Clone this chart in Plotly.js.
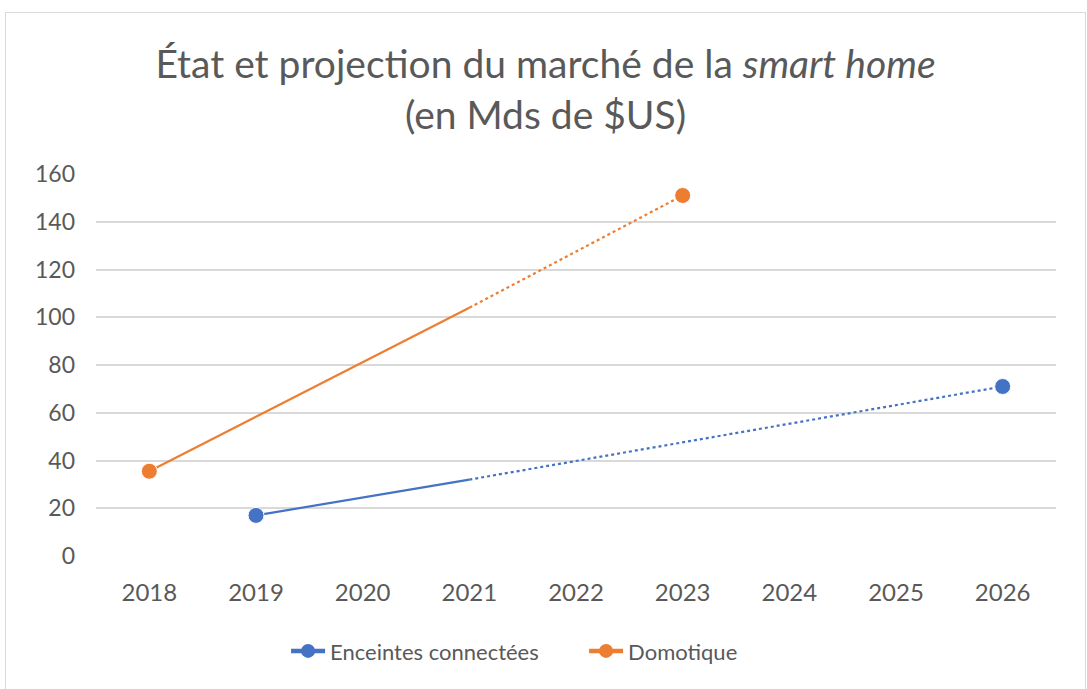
<!DOCTYPE html>
<html>
<head>
<meta charset="utf-8">
<script src="https://cdn.plot.ly/plotly-3.0.1.min.js"></script>
<style>
  html, body { margin: 0; padding: 0; background: #ffffff; overflow: hidden; }
  #frame { position: absolute; left: 5px; top: 12px; width: 1079px; height: 690px; border: 1px solid #d9d9d9; background: #fff; }
  #chart { width: 1079px; height: 677px; }
</style>
</head>
<body>
<div id="frame"><div id="chart"></div></div>
<script>
// Data
const years = ["2018", "2019", "2020", "2021", "2022", "2023", "2024", "2025", "2026"];
const enceintes = [null, 17, null, 32, null, null, null, null, 71];
const domotique = [35.5, null, null, 104, null, 151, null, null, null];
const projectionStart = "2021";
const seriesNames = ["Enceintes connectées", "Domotique"];
const seriesColors = ["#4472C4", "#ED7D31"];
const yTicks = [0, 20, 40, 60, 80, 100, 120, 140, 160];

const splitIdx = years.indexOf(projectionStart);
const font = "Lato, 'Open Sans', sans-serif";
const textColor = "#595959";

function segments(vals, name, color) {
  const solid = vals.map((v, i) => (i <= splitIdx ? v : null));
  const dotted = vals.map((v, i) => (i >= splitIdx ? v : null));
  const sizes = years.map((y, i) => (i === splitIdx ? 0 : 16));
  return [
    { x: years, y: solid, type: "scatter", mode: "lines+markers", connectgaps: true,
      line: { color: color, width: 2.2 }, marker: { color: color, size: sizes, opacity: 1 },
      showlegend: false, hoverinfo: "x+y", name: name },
    { x: years, y: dotted, type: "scatter", mode: "lines+markers", connectgaps: true,
      line: { color: color, width: 2.2, dash: "dot" }, marker: { color: color, size: sizes, opacity: 1 },
      showlegend: false, hoverinfo: "x+y", name: name },
    { x: [years[0]], y: [null], type: "scatter", mode: "lines+markers",
      line: { color: color, width: 4.5 }, marker: { color: color, size: 14, opacity: 1 },
      showlegend: true, name: name }
  ];
}

const data = [
  ...segments(enceintes, seriesNames[0], seriesColors[0]),
  ...segments(domotique, seriesNames[1], seriesColors[1])
];

const layout = {
  width: 1079, height: 677,
  margin: { l: 90, r: 29, t: 161, b: 134 },
  paper_bgcolor: "#ffffff", plot_bgcolor: "#ffffff",
  font: { family: font, color: textColor, size: 22 },
  title: {
    text: "État et projection du marché de la <i>smart home</i><br>(en Mds de $US)",
    font: { family: font, size: 39, color: textColor },
    x: 0.5, xanchor: "center", y: 0.904, yanchor: "middle"
  },
  xaxis: {
    type: "category", categoryorder: "array", categoryarray: years,
    range: [-0.5, years.length - 0.5],
    showgrid: false, zeroline: false, showline: false, ticks: "",
    tickfont: { family: font, size: 24, color: textColor },
    ticklabelstandoff: 20, fixedrange: true
  },
  yaxis: {
    range: [0, 160], tickmode: "array", tickvals: yTicks,
    showgrid: true, gridcolor: "#d9d9d9", gridwidth: 2,
    zeroline: false, showline: false, ticks: "",
    tickfont: { family: font, size: 23, color: textColor },
    ticklabelstandoff: 20, fixedrange: true
  },
  legend: {
    orientation: "h", x: 0.198, xanchor: "left", y: -0.249, yanchor: "middle",
    font: { family: font, size: 22, color: textColor }, itemwidth: 34,
    entrywidth: 249, entrywidthmode: "pixels",
    traceorder: "normal"
  },
  showlegend: true
};

Plotly.newPlot("chart", data, layout, { displayModeBar: false, staticPlot: true });
</script>
</body>
</html>
